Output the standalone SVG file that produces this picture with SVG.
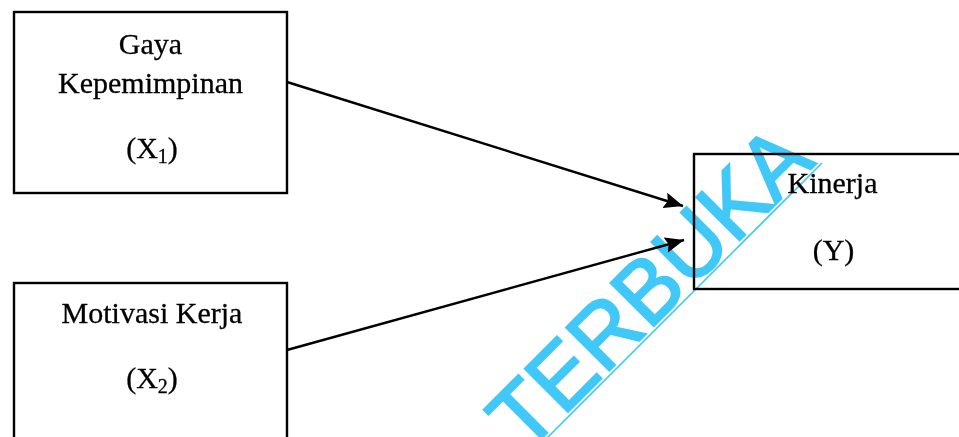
<svg xmlns="http://www.w3.org/2000/svg" width="959" height="437" viewBox="0 0 959 437">
  <style>
    .box { fill: #ffffff; stroke: #000000; stroke-width: 2.4; }
    .lbl { font-family: "Liberation Serif", "Times New Roman", serif; font-size: 30px; fill: #000000; text-anchor: middle; stroke: #000000; stroke-width: 0.3; }
    .sub { font-size: 20px; }
    .conn { stroke: #000000; stroke-width: 2.4; fill: none; }
    .wm { font-family: "Liberation Sans", Arial, sans-serif; font-size: 89px; fill: #40C8F8; stroke: #40C8F8; stroke-width: 2; }
  </style>
  <defs>
    <marker id="arrow" markerUnits="userSpaceOnUse" markerWidth="20" markerHeight="16" refX="19" refY="8" orient="auto">
      <path d="M0,0 L19,8 L0,16 L3,8 z" fill="#000000"/>
    </marker>
  </defs>
  <rect x="0" y="0" width="959" height="437" fill="#ffffff"/>

  <g id="node-x1">
    <rect class="box" x="14" y="12" width="273" height="181"/>
    <text class="lbl" x="150.5" y="54">Gaya</text>
    <text class="lbl" x="150.5" y="93">Kepemimpinan</text>
    <text class="lbl" x="152" y="158">(X<tspan class="sub" dy="5">1</tspan><tspan dy="-5">)</tspan></text>
  </g>

  <g id="node-x2">
    <rect class="box" x="14" y="283" width="273" height="190"/>
    <text class="lbl" x="152" y="323">Motivasi Kerja</text>
    <text class="lbl" x="152" y="388">(X<tspan class="sub" dy="5">2</tspan><tspan dy="-5">)</tspan></text>
  </g>

  <g id="node-y">
    <rect class="box" x="694" y="154" width="290" height="135"/>
    <text class="lbl" x="832.5" y="193">Kinerja</text>
    <text class="lbl" x="833.5" y="260">(Y)</text>
  </g>

  <g id="connectors">
    <line class="conn" x1="287" y1="82" x2="683" y2="206" marker-end="url(#arrow)"/>
    <line class="conn" x1="287" y1="350" x2="684" y2="240" marker-end="url(#arrow)"/>
  </g>

  <g id="watermark" style="mix-blend-mode: multiply;">
    <text class="wm" transform="translate(525.4,454.6) rotate(-45)" textLength="412" lengthAdjust="spacingAndGlyphs">TERBUKA</text>
    <line x1="530" y1="455" x2="822" y2="163" stroke="#40C8F8" stroke-width="1.6"/>
  </g>
</svg>
